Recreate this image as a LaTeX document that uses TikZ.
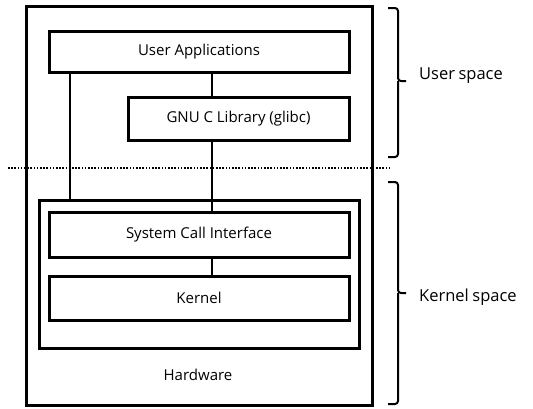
\documentclass[tikz,border=0pt]{standalone}
\usepackage{fontspec}
\setmainfont{Open Sans}
\begin{document}
\begin{tikzpicture}[x=1pt,y=-1pt,
  layer/.style={draw,line width=3pt,minimum width=300pt,inner sep=0pt,font=\fontsize{15}{17}\selectfont},
  frame/.style={draw,line width=3pt,inner sep=0pt},
  link/.style={line width=2pt},
  bracket/.style={line width=2pt,rounded corners=3pt},
  side/.style={anchor=west,inner sep=0pt,font=\fontsize{16.5}{18}\selectfont}]
\useasboundingbox (0,0) rectangle (533,408);
% outer hardware frame and kernel container
\node[frame,minimum width=346pt,minimum height=399pt] (hw) at (199,205.5) {};
\node[frame,minimum width=320pt,minimum height=148pt] (kbox) at (199,274) {};
% layers
\node[layer,minimum height=41pt] (ua) at (199,51.5) {User Applications};
\node[layer,minimum width=221pt,minimum height=43pt] (glibc) at (238.5,119) {GNU C Library (glibc)};
\node[layer,minimum height=45pt] (sci) at (199,234.5) {System Call Interface};
\node[layer,minimum height=44pt] (kern) at (199,298) {Kernel};
\node[font=\fontsize{15}{17}\selectfont] (hwlabel) at (198,375) {Hardware};
% connector columns
\coordinate (lx) at (70,0);
\coordinate (cx) at (212,0);
\draw[link] (ua.south -| lx) -- (kbox.north -| lx);
\draw[link] (ua.south -| cx) -- (glibc.north -| cx);
\draw[link] (glibc.south -| cx) -- (sci.north -| cx);
\draw[link] (sci.south -| cx) -- (kern.north -| cx);
% user/kernel boundary
\coordinate (bl) at (8,168);
\coordinate (br) at (390,168);
\draw[line width=2.5pt,dash pattern=on 1.6pt off 1.6pt] (bl) -- (br);
% brackets
\coordinate (ut) at (388,8);
\coordinate (ub) at (388,157);
\coordinate (utip) at (406,81);
\draw[bracket] (ut) -- (398,8) -- (398,81) -- (utip);
\draw[bracket] (ub) -- (398,157) -- (398,81);
\coordinate (kt) at (388,182);
\coordinate (kb) at (388,404);
\coordinate (ktip) at (406,293);
\draw[bracket] (kt) -- (398,182) -- (398,293) -- (ktip);
\draw[bracket] (kb) -- (398,404) -- (398,293);
\node[side] (us) at (419,76) {User\kern3.5pt space};
\node[side] (ks) at (419,297) {Kernel\kern3.5pt space};
\end{tikzpicture}
\end{document}
